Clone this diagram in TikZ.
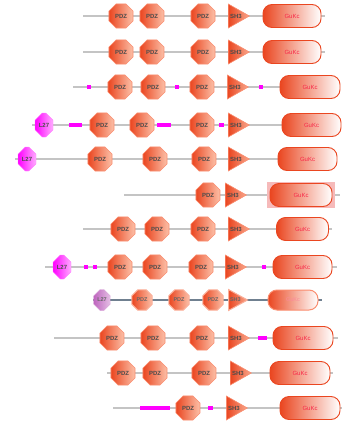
\documentclass[tikz,border=0pt]{standalone}
\usepackage{fontspec}
\setmainfont{Liberation Sans}
\usepackage{xcolor}
\definecolor{domred}{RGB}{234,70,32}
\definecolor{domlight}{RGB}{252,192,168}
\definecolor{domedge}{RGB}{250,140,110}
\definecolor{gukctext}{RGB}{248,40,72}
\definecolor{motifpink}{RGB}{255,0,255}
\definecolor{lpink}{RGB}{255,120,255}
\definecolor{chain}{RGB}{196,196,196}
\definecolor{selchain}{RGB}{112,128,144}
\definecolor{selpurple}{RGB}{190,100,190}
\definecolor{selbox}{RGB}{246,186,186}
\usetikzlibrary{shapes.geometric, shapes.misc}

\tikzset{
  backbone/.style={draw=chain, line width=1.6pt},
  domtext/.style={font=\fontsize{6}{6}\selectfont\bfseries, text=black!70},
  seltext/.style={font=\fontsize{5.5}{5.5}\selectfont\bfseries, text=black!60},
  pdz/.style={regular polygon, regular polygon sides=8, minimum size=26pt, inner sep=0pt,
    draw=domedge, line width=0.6pt, left color=domred, right color=domlight, domtext},
  sh3/.style={isosceles triangle, isosceles triangle stretches, minimum width=24pt,
    minimum height=21pt, inner sep=0pt, anchor=lower side, draw=domedge, line width=0.6pt,
    left color=domred, right color=domlight!80!domred, domtext},
  gukc/.style={rectangle, rounded corners=9pt, minimum height=23pt, inner sep=0pt,
    draw=domred, line width=0.9pt, left color=domred, right color=white,
    font=\fontsize{6}{6}\selectfont, text=gukctext},
  ltwoseven/.style={chamfered rectangle, chamfered rectangle xsep=4.5pt,
    chamfered rectangle ysep=12pt, minimum width=18pt, minimum height=24pt, inner sep=0pt,
    draw=lpink, left color=motifpink, right color=lpink!60, domtext},
  motif/.style={rectangle, fill=motifpink, minimum height=4pt, inner sep=0pt},
  % selected row
  selbackbone/.style={draw=selchain, line width=1.8pt},
  pdzsel/.style={pdz, minimum size=22pt, draw=domedge!70, line width=1pt, seltext},
  sh3sel/.style={sh3, minimum width=21pt, minimum height=19pt, draw=domedge!70,
    line width=1pt, seltext},
  gukcsel/.style={gukc, minimum height=20pt, draw=domedge, line width=1pt, right color=white,
    font=\fontsize{5.5}{5.5}\selectfont, text=gukctext!55},
  ltwosevensel/.style={ltwoseven, minimum width=17pt, minimum height=21pt,
    chamfered rectangle ysep=10.5pt, chamfered rectangle xsep=4.5pt, draw=selpurple!60,
    left color=selpurple, right color=selpurple!40, seltext}
}

\begin{document}
\begin{tikzpicture}[x=1pt, y=-1pt]
  \useasboundingbox (0,0) rectangle (342,423);

  % --- Row 1 ---
  \coordinate (r1w) at (83,16);
  \coordinate (r1e) at (325,16);
  \draw[backbone] (r1w) -- (r1e);
  \node[pdz] (r1p1) at (121,16) {PDZ};
  \node[pdz] (r1p2) at (152,16) {PDZ};
  \node[pdz] (r1p3) at (203,16) {PDZ};
  \node[sh3] (r1s) at (228,16) {SH3};
  \node[gukc, minimum width=58pt] (r1g) at (292,16) {GuKc};

  % --- Row 2 ---
  \coordinate (r2w) at (83,52);
  \coordinate (r2e) at (325,52);
  \draw[backbone] (r2w) -- (r2e);
  \node[pdz] (r2p1) at (121,52) {PDZ};
  \node[pdz] (r2p2) at (152,52) {PDZ};
  \node[pdz] (r2p3) at (203,52) {PDZ};
  \node[sh3] (r2s) at (228,52) {SH3};
  \node[gukc, minimum width=58pt] (r2g) at (292,52) {GuKc};

  % --- Row 3 ---
  \coordinate (r3w) at (73,87);
  \coordinate (r3e) at (332,87);
  \draw[backbone] (r3w) -- (r3e);
  \node[motif, minimum width=4pt] (r3m1) at (89,87) {};
  \node[pdz] (r3p1) at (120,87) {PDZ};
  \node[pdz] (r3p2) at (153,87) {PDZ};
  \node[motif, minimum width=4pt] (r3m2) at (177,87) {};
  \node[pdz] (r3p3) at (202,87) {PDZ};
  \node[sh3] (r3s) at (227,87) {SH3};
  \node[motif, minimum width=4pt] (r3m3) at (261,87) {};
  \node[gukc, minimum width=60pt] (r3g) at (310,87) {GuKc};

  % --- Row 4 ---
  \coordinate (r4w) at (32,125);
  \coordinate (r4e) at (336,125);
  \draw[backbone] (r4w) -- (r4e);
  \node[ltwoseven] (r4l) at (44,125) {L27};
  \node[motif, minimum width=13pt] (r4m1) at (75.5,125) {};
  \node[pdz] (r4p1) at (102,125) {PDZ};
  \node[pdz] (r4p2) at (142,125) {PDZ};
  \node[motif, minimum width=14pt] (r4m2) at (164,125) {};
  \node[pdz] (r4p3) at (202,125) {PDZ};
  \node[motif, minimum width=5pt] (r4m3) at (221.5,125) {};
  \node[sh3] (r4s) at (228,125) {SH3};
  \node[gukc, minimum width=59pt] (r4g) at (311.5,125) {GuKc};

  % --- Row 5 ---
  \coordinate (r5w) at (15,159);
  \coordinate (r5e) at (336,159);
  \draw[backbone] (r5w) -- (r5e);
  \node[ltwoseven] (r5l) at (27,159) {L27};
  \node[pdz] (r5p1) at (100,159) {PDZ};
  \node[pdz] (r5p2) at (155,159) {PDZ};
  \node[pdz] (r5p3) at (204,159) {PDZ};
  \node[sh3] (r5s) at (228,159) {SH3};
  \node[gukc, minimum width=59pt] (r5g) at (307.5,159) {GuKc};

  % --- Row 6 ---
  \coordinate (r6w) at (124,195);
  \coordinate (r6e) at (340,195);
  \draw[backbone] (r6w) -- (r6e);
  \fill[selbox] (267,182) rectangle (335,208);
  \node[pdz] (r6p1) at (208,195) {PDZ};
  \node[sh3] (r6s) at (225,195) {SH3};
  \node[gukc, minimum width=62pt] (r6g) at (301,195) {GuKc};

  % --- Row 7 ---
  \coordinate (r7w) at (83,229);
  \coordinate (r7e) at (332,229);
  \draw[backbone] (r7w) -- (r7e);
  \node[pdz] (r7p1) at (123,229) {PDZ};
  \node[pdz] (r7p2) at (157,229) {PDZ};
  \node[pdz] (r7p3) at (203,229) {PDZ};
  \node[sh3] (r7s) at (228,229) {SH3};
  \node[gukc, minimum width=52pt] (r7g) at (302.5,229) {GuKc};

  % --- Row 8 ---
  \coordinate (r8w) at (45,267);
  \coordinate (r8e) at (337,267);
  \draw[backbone] (r8w) -- (r8e);
  \node[ltwoseven] (r8l) at (62,267) {L27};
  \node[motif, minimum width=4pt] (r8m1) at (86,267) {};
  \node[motif, minimum width=4pt] (r8m2) at (95,267) {};
  \node[pdz] (r8p1) at (120,267) {PDZ};
  \node[pdz] (r8p2) at (155,267) {PDZ};
  \node[pdz] (r8p3) at (201,267) {PDZ};
  \node[sh3] (r8s) at (225,267) {SH3};
  \node[motif, minimum width=4pt] (r8m3) at (264,267) {};
  \node[gukc, minimum width=59pt] (r8g) at (302.5,267) {GuKc};

  % --- Row 9 (selected) ---
  \coordinate (r9w) at (93,300);
  \coordinate (r9e) at (322,300);
  \draw[selbackbone] (r9w) -- (r9e);
  \node[ltwosevensel] (r9l) at (102,300) {L27};
  \node[pdzsel] (r9p1) at (142,300) {PDZ};
  \node[pdzsel] (r9p2) at (179,300) {PDZ};
  \node[pdzsel] (r9p3) at (213,300) {PDZ};
  \node[sh3sel] (r9s) at (228,300) {SH3};
  \node[gukcsel, minimum width=50pt] (r9g) at (293,300) {GuKc};

  % --- Row 10 ---
  \coordinate (r10w) at (54,338);
  \coordinate (r10e) at (338,338);
  \draw[backbone] (r10w) -- (r10e);
  \node[pdz] (r10p1) at (112,338) {PDZ};
  \node[pdz] (r10p2) at (153,338) {PDZ};
  \node[pdz] (r10p3) at (202,338) {PDZ};
  \node[sh3] (r10s) at (228,338) {SH3};
  \node[motif, minimum width=9pt] (r10m1) at (262.5,338) {};
  \node[gukc, minimum width=60pt] (r10g) at (303,338) {GuKc};

  % --- Row 11 ---
  \coordinate (r11w) at (107,373);
  \coordinate (r11e) at (333,373);
  \draw[backbone] (r11w) -- (r11e);
  \node[pdz] (r11p1) at (123,373) {PDZ};
  \node[pdz] (r11p2) at (155,373) {PDZ};
  \node[pdz] (r11p3) at (204,373) {PDZ};
  \node[sh3] (r11s) at (230,373) {SH3};
  \node[gukc, minimum width=60pt] (r11g) at (300,373) {GuKc};

  % --- Row 12 ---
  \coordinate (r12w) at (113,408);
  \coordinate (r12e) at (342,408);
  \draw[backbone] (r12w) -- (r12e);
  \node[motif, minimum width=30pt] (r12m1) at (155,408) {};
  \node[pdz] (r12p1) at (188,408) {PDZ};
  \node[motif, minimum width=5pt] (r12m2) at (210.5,408) {};
  \node[sh3] (r12s) at (226,408) {SH3};
  \node[gukc, minimum width=60pt] (r12g) at (310,408) {GuKc};
\end{tikzpicture}
\end{document}
